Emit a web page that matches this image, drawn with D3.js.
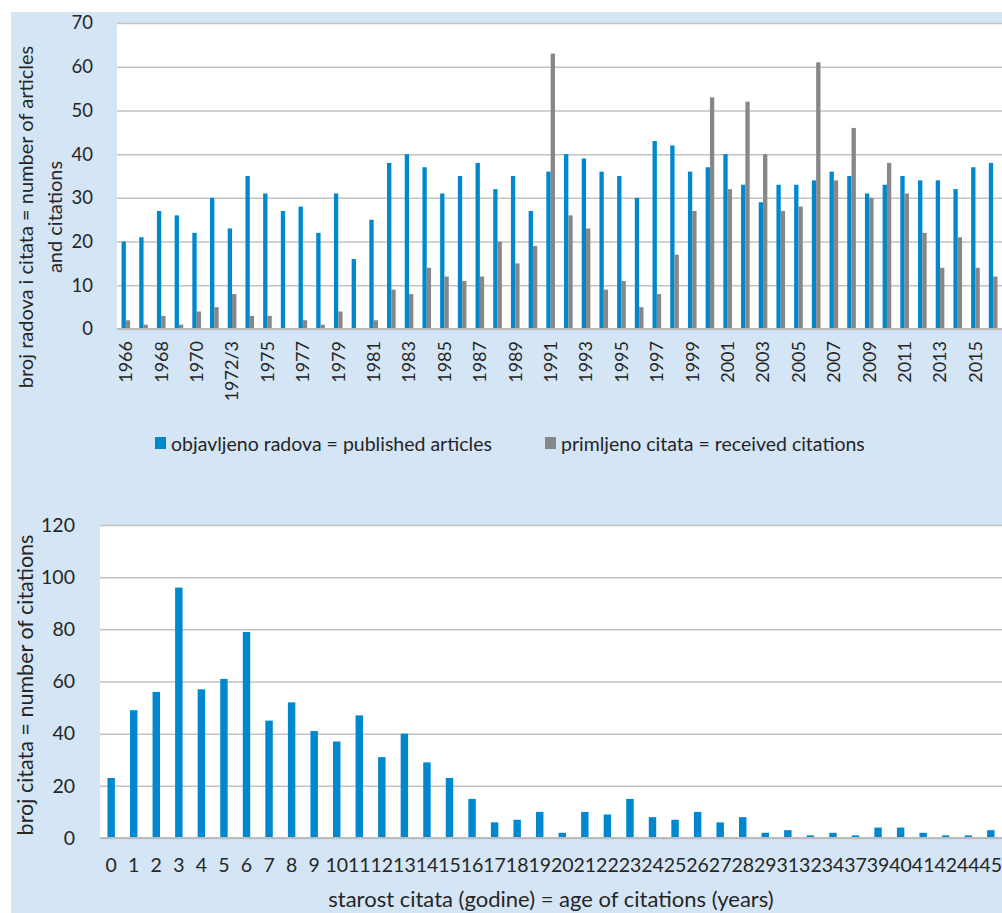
<!DOCTYPE html>
<html>
<head>
<meta charset="utf-8">
<script src="https://cdn.jsdelivr.net/npm/d3@7"></script>
<style>
  body { margin: 0; background: #fff; }
  text { font-family: Lato, "Open Sans", sans-serif; fill: #262626; }
</style>
</head>
<body>
<div id="viz"></div>
<script>
// top chart: articles and citations per year
var years = ["1966","1967","1968","1969","1970","1971","1972/3",
  "1974","1975","1976","1977","1978","1979","1980","1981","1982","1983",
  "1984","1985","1986","1987","1988","1989","1990","1991","1992","1993",
  "1994","1995","1996","1997","1998","1999","2000","2001","2002","2003",
  "2004","2005","2006","2007","2008","2009","2010","2011","2012","2013",
  "2014","2015","2016"];
var published = [20,21,27,26,22,30,23,
  35,31,27,28,22,31,16,25,38,40,
  37,31,35,38,32,35,27,36,40,39,
  36,35,30,43,42,36,37,40,33,29,
  33,33,34,36,35,31,33,35,34,34,
  32,37,38];
var citations = [2,1,3,1,4,5,8,
  3,3,0,2,1,4,0,2,9,8,
  14,12,11,12,20,15,19,63,26,23,
  9,11,5,8,17,27,53,32,52,40,
  27,28,61,34,46,30,38,31,22,14,
  21,14,12];
var topTicks = [0,10,20,30,40,50,60,70];

// bottom chart: age of citations
var ages = ["0","1","2","3","4","5","6","7","8","9","10","11","12","13","14","15","16","17","18","19",
  "20","21","22","23","24","25","26","27","28","29","31","32","34","37","39","40","41","42","44","45"];
var ageCount = [23,49,56,96,57,61,79,45,52,41,37,47,31,40,29,23,15,6,7,10,
  2,10,9,15,8,7,10,6,8,2,3,1,2,1,4,4,2,1,1,3];
var bottomTicks = [0,20,40,60,80,100,120];

var seriesNames = ["objavljeno radova = published articles", "primljeno citata = received citations"];
var blue = "#0088cf", gray = "#878787", gridColor = "#c3c3c3";

var width = 1002, height = 913;
var svg = d3.select("#viz").append("svg")
  .attr("width", width).attr("height", height);

svg.append("rect").attr("x", 11).attr("y", 12).attr("width", width - 11).attr("height", height - 12)
  .attr("fill", "#d4e5f5");

/* ---------- top chart ---------- */
var t = {left: 117, right: 1002, top: 23, bottom: 329};

svg.append("rect").attr("x", t.left).attr("y", t.top)
  .attr("width", t.right - t.left).attr("height", t.bottom - t.top).attr("fill", "#fff");

var x0 = d3.scaleBand().domain(years).range([t.left, t.right]);
var x1 = d3.scaleBand().domain(["pub", "cit"]).range([0, x0.bandwidth()]).paddingOuter(1.05);
var y0 = d3.scaleLinear().domain([0, 70]).range([t.bottom, t.top]);

svg.append("g")
  .attr("transform", `translate(${t.left},0)`)
  .call(d3.axisLeft(y0).tickValues(topTicks).tickSize(-(t.right - t.left)).tickFormat(""))
  .call(g => g.select(".domain").remove())
  .call(g => g.selectAll("line").attr("stroke", gridColor).attr("stroke-width", 1.5));

svg.append("g")
  .attr("transform", `translate(${t.left - 21},0)`)
  .call(d3.axisLeft(y0).tickValues(topTicks).tickSize(0))
  .call(g => g.select(".domain").remove())
  .call(g => g.selectAll("text").attr("font-size", 18.5).style("font-family", "Lato").attr("fill", "#262626"));

var groups = svg.selectAll(".year")
  .data(years.map((d, i) => ({year: d, pub: published[i], cit: citations[i]})))
  .enter().append("g")
  .attr("class", "year")
  .attr("transform", d => `translate(${x0(d.year)},0)`);

groups.append("rect")
  .attr("x", x1("pub"))
  .attr("y", d => y0(d.pub))
  .attr("width", x1.bandwidth())
  .attr("height", d => y0(0) - y0(d.pub))
  .attr("fill", blue);

groups.append("rect")
  .attr("x", x1("cit"))
  .attr("y", d => y0(d.cit))
  .attr("width", x1.bandwidth())
  .attr("height", d => y0(0) - y0(d.cit))
  .attr("fill", gray);

svg.append("line").attr("x1", t.left).attr("x2", t.right).attr("y1", t.bottom).attr("y2", t.bottom)
  .attr("stroke", "#bcbcbc").attr("stroke-width", 2);

// x labels, every other year, rotated
svg.append("g")
  .attr("transform", `translate(0,${t.bottom})`)
  .call(d3.axisBottom(x0).tickSize(0).tickValues(years.filter((d, i) => i % 2 === 0)))
  .call(g => g.select(".domain").remove())
  .call(g => g.selectAll("text")
    .attr("font-size", 18).style("font-family", "Lato").attr("fill", "#262626")
    .attr("text-anchor", "end")
    .attr("transform", "rotate(-90)")
    .attr("x", -12).attr("y", 0).attr("dy", "0.35em"));

var topTitle = svg.append("text")
  .attr("transform", "translate(33,217) rotate(-90)")
  .attr("text-anchor", "middle").attr("font-size", 20);
topTitle.append("tspan").attr("x", 0).attr("y", 0).text("broj radova i citata = number of articles");
topTitle.append("tspan").attr("x", 0).attr("y", 29).text("and citations");

// legend
var legend = svg.selectAll(".legend")
  .data(seriesNames)
  .enter().append("g")
  .attr("class", "legend")
  .attr("transform", (d, i) => `translate(${i === 0 ? 155 : 545},437)`);
legend.append("rect").attr("width", 11).attr("height", 12).attr("fill", (d, i) => i === 0 ? blue : gray);
legend.append("text").attr("x", 16).attr("y", 14).attr("font-size", 19.5).text(d => d);

/* ---------- bottom chart ---------- */
var b = {left: 100, right: 1002, top: 525, bottom: 838};

svg.append("rect").attr("x", b.left).attr("y", b.top)
  .attr("width", b.right - b.left).attr("height", b.bottom - b.top).attr("fill", "#fff");

var xb = d3.scaleBand().domain(ages).range([b.left, b.right]).paddingInner(0.67).paddingOuter(0.33);
var yb = d3.scaleLinear().domain([0, 120]).range([b.bottom, b.top]);

svg.append("g")
  .attr("transform", `translate(${b.left},0)`)
  .call(d3.axisLeft(yb).tickValues(bottomTicks).tickSize(-(b.right - b.left)).tickFormat(""))
  .call(g => g.select(".domain").remove())
  .call(g => g.selectAll("line").attr("stroke", gridColor).attr("stroke-width", 1.5));

svg.append("g")
  .attr("transform", `translate(${b.left - 22},0)`)
  .call(d3.axisLeft(yb).tickValues(bottomTicks).tickSize(0))
  .call(g => g.select(".domain").remove())
  .call(g => g.selectAll("text").attr("font-size", 19.5).style("font-family", "Lato").attr("fill", "#262626"));

svg.selectAll(".agebar")
  .data(ages.map((d, i) => ({age: d, n: ageCount[i]})))
  .enter().append("rect")
  .attr("class", "agebar")
  .attr("x", d => xb(d.age))
  .attr("y", d => yb(d.n))
  .attr("width", xb.bandwidth())
  .attr("height", d => yb(0) - yb(d.n))
  .attr("fill", blue);

svg.append("line").attr("x1", b.left).attr("x2", b.right).attr("y1", b.bottom).attr("y2", b.bottom)
  .attr("stroke", "#bcbcbc").attr("stroke-width", 2);

svg.append("g")
  .attr("transform", `translate(0,${b.bottom})`)
  .call(d3.axisBottom(xb).tickSize(0).tickPadding(20))
  .call(g => g.select(".domain").remove())
  .call(g => g.selectAll("text").attr("font-size", 19.5).style("font-family", "Lato").attr("fill", "#262626"));

svg.append("text")
  .attr("x", 551).attr("y", 907)
  .attr("text-anchor", "middle").attr("font-size", 22)
  .text("starost citata (godine) = age of citations (years)");

svg.append("text")
  .attr("transform", "translate(33,685) rotate(-90)")
  .attr("text-anchor", "middle").attr("font-size", 21.5)
  .text("broj citata = number of citations");
</script>
</body>
</html>
